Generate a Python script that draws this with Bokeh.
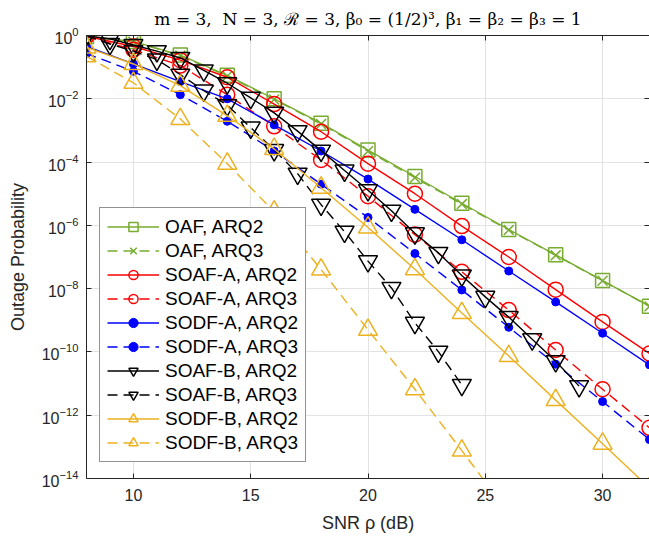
from bokeh.plotting import figure
from bokeh.models import FixedTicker, LinearAxis, LogAxis, Range1d, LogTickFormatter
from bokeh.embed import file_html
from bokeh.resources import INLINE

# ---------------- data ----------------
snr_2db = [8, 10, 12, 14, 16, 18, 20, 22, 24, 26, 28, 30, 32]
snr_soafb_arq2 = list(range(8, 30))   # 8..29 dB, 1 dB steps
snr_soafb_arq3 = list(range(8, 25))   # 8..24 dB, 1 dB steps
snr_sodfb_arq3 = [8, 10, 12, 14, 16, 18, 20, 22, 24, 26]

oaf_arq2 = [0.93, 0.65, 0.24, 5.5e-2, 1.0e-2, 1.7e-3, 2.4e-4, 3.5e-5, 5.0e-6, 7.4e-7, 1.17e-7, 1.8e-8, 2.8e-9]
oaf_arq3 = [0.92, 0.63, 0.23, 5.2e-2, 9.5e-3, 1.6e-3, 2.2e-4, 3.2e-5, 4.7e-6, 7.1e-7, 1.13e-7, 1.78e-8, 2.75e-9]
soafa_arq2 = [0.95, 0.45, 0.166, 4.8e-2, 6.8e-3, 9.1e-4, 8.9e-5, 1.0e-5, 9.5e-7, 1.0e-7, 9.3e-9, 8.9e-10, 8.9e-11]
soafa_arq3 = [0.95, 0.355, 0.112, 1.35e-2, 1.35e-3, 1.17e-4, 8.3e-6, 5.1e-7, 3.4e-8, 2.1e-9, 1.15e-10, 6.6e-12, 4.0e-13]
sodfa_arq2 = [0.45, 0.126, 3.5e-2, 1.0e-2, 1.5e-3, 2.24e-4, 2.9e-5, 3.2e-6, 3.5e-7, 3.6e-8, 3.8e-9, 3.9e-10, 3.9e-11]
sodfa_arq3 = [0.27, 7.4e-2, 1.35e-2, 1.95e-3, 2.24e-4, 2.0e-5, 1.78e-6, 1.29e-7, 9.1e-9, 6.0e-10, 4.1e-11, 2.7e-12, 1.7e-13]
soafb_arq2 = [0.98, 0.78, 0.5, 0.32, 0.195, 7.9e-2, 3.1e-2, 1.07e-2, 3.6e-3, 9.5e-4, 2.3e-4, 5.4e-5,
              1.29e-5, 2.9e-6, 5.6e-7, 1.35e-7, 2.6e-8, 5.5e-9, 1.26e-9, 2.5e-10, 5.1e-11, 8.3e-12]
soafb_arq3 = [0.98, 0.54, 0.32, 0.174, 5.8e-2, 1.82e-2, 6.3e-3, 1.23e-3, 2.4e-4, 4.3e-5, 4.5e-6, 6.3e-7,
              7.4e-8, 1.05e-8, 8.3e-10, 1.02e-10, 9.1e-12]
sodfb_arq2 = [0.42, 0.126, 2.6e-2, 2.9e-3, 2.6e-4, 1.55e-5, 8.5e-7, 4.1e-8, 1.7e-9, 7.4e-11, 3.0e-12, 1.26e-13, 5.0e-15]
sodfb_arq3 = [0.22, 3.2e-2, 2.3e-3, 8.9e-5, 2.7e-6, 4.0e-8, 5.0e-10, 6.6e-12, 7.6e-14, 7.9e-16]

x_ticks = [10, 15, 20, 25, 30]
y_ticks = [1e0, 1e-2, 1e-4, 1e-6, 1e-8, 1e-10, 1e-12, 1e-14]

title_text = ("m = 3,\u00a0\u00a0N = 3,\u00a0\u211b = 3,\u00a0\u03b2\u2080 = (1/2)\u00b3,\u00a0"
              "\u03b2\u2081 = \u03b2\u2082 = \u03b2\u2083 = 1")

# ---------------- styles ----------------
GREEN = "#77AC30"
RED = "#FF0000"
BLUE = "#0000FF"
BLACK = "#000000"
YELLOW = "#EDB120"
AXC = "#262626"
FONT = "Liberation Sans"
DASH = "10 6"
LW = 1.4

p = figure(width=649, height=536, y_axis_type="log",
           x_range=Range1d(8, 32), y_range=Range1d(1e-14, 1e0),
           output_backend="svg", toolbar_location=None,
           min_border_left=86, min_border_right=0, min_border_top=32, min_border_bottom=58)

p.title.text = title_text
p.title.align = "center"
p.title.text_font = "DejaVu Serif"
p.title.text_font_size = "17px"
p.title.text_font_style = "normal"
p.title.text_color = "#000000"
p.title.standoff = 13

p.outline_line_color = None
p.background_fill_color = "white"
p.border_fill_color = "white"

# axes
p.xaxis.ticker = FixedTicker(ticks=x_ticks, minor_ticks=[])
p.yaxis.ticker = FixedTicker(ticks=y_ticks, minor_ticks=[])
p.yaxis.formatter = LogTickFormatter()
for ax in (p.xaxis[0], p.yaxis[0]):
    ax.axis_line_color = AXC
    ax.major_tick_line_color = AXC
    ax.major_tick_in = 5
    ax.major_tick_out = 0
    ax.minor_tick_line_color = None
    ax.major_label_text_font = FONT
    ax.major_label_text_font_size = "16px"
    ax.major_label_text_color = AXC
    ax.axis_label_text_font = FONT
    ax.axis_label_text_font_size = "18px"
    ax.axis_label_text_font_style = "normal"
    ax.axis_label_text_color = AXC
p.xaxis.axis_label = "SNR \u03c1 (dB)"
p.yaxis.axis_label = "Outage Probability"
p.xaxis.major_label_standoff = 10
p.yaxis.major_label_standoff = 8
p.xaxis.axis_label_standoff = 9
p.yaxis.axis_label_standoff = 11

top_axis = LinearAxis(ticker=FixedTicker(ticks=x_ticks, minor_ticks=[]))
top_axis.axis_line_color = AXC
top_axis.major_tick_line_color = AXC
top_axis.major_tick_in = 5
top_axis.major_tick_out = 0
top_axis.minor_tick_line_color = None
top_axis.major_label_text_font_size = "1px"
top_axis.major_label_text_color = None
top_axis.major_label_standoff = 0
p.add_layout(top_axis, "above")

right_axis = LogAxis(ticker=FixedTicker(ticks=y_ticks, minor_ticks=[]))
right_axis.axis_line_color = None
right_axis.major_tick_line_color = AXC
right_axis.major_tick_in = 5
right_axis.major_tick_out = 0
right_axis.minor_tick_line_color = None
right_axis.major_label_text_font_size = "1px"
right_axis.major_label_text_color = None
right_axis.major_label_standoff = 0
p.add_layout(right_axis, "right")

p.xgrid.ticker = FixedTicker(ticks=x_ticks, minor_ticks=[])
p.ygrid.ticker = FixedTicker(ticks=y_ticks, minor_ticks=[])
p.grid.grid_line_color = "#e3e3e3"
p.grid.grid_line_width = 1

# ---------------- series ----------------
def series(xs, ys, color, dash, marker, size, label, filled=False):
    p.line(xs, ys, line_color=color, line_width=LW, line_dash=dash, legend_label=label)
    if filled:
        p.scatter(xs, ys, marker=marker, size=size, line_color=color, fill_color=color,
                  line_width=1, legend_label=label)
    else:
        p.scatter(xs, ys, marker=marker, size=size, line_color=color, fill_alpha=0,
                  line_width=1.5, legend_label=label)

series(snr_2db, oaf_arq2, GREEN, "solid", "square", 14, "OAF, ARQ2")
series(snr_2db, oaf_arq3, GREEN, DASH, "x", 14, "OAF, ARQ3")
series(snr_2db, soafa_arq2, RED, "solid", "circle", 15, "SOAF-A, ARQ2")
series(snr_2db, soafa_arq3, RED, DASH, "circle", 15, "SOAF-A, ARQ3")
series(snr_2db, sodfa_arq2, BLUE, "solid", "circle", 8, "SODF-A, ARQ2", filled=True)
series(snr_2db, sodfa_arq3, BLUE, DASH, "circle", 8, "SODF-A, ARQ3", filled=True)
series(snr_soafb_arq2, soafb_arq2, BLACK, "solid", "inverted_triangle", 19, "SOAF-B, ARQ2")
series(snr_soafb_arq3, soafb_arq3, BLACK, DASH, "inverted_triangle", 19, "SOAF-B, ARQ3")
series(snr_2db, sodfb_arq2, YELLOW, "solid", "triangle", 19, "SODF-B, ARQ2")
series(snr_sodfb_arq3, sodfb_arq3, YELLOW, DASH, "triangle", 19, "SODF-B, ARQ3")

# ---------------- legend ----------------
lg = p.legend[0]
lg.location = (13, 16)
lg.border_line_color = AXC
lg.border_line_width = 1
lg.background_fill_color = "white"
lg.background_fill_alpha = 1
lg.label_text_font = FONT
lg.label_text_font_size = "19px"
lg.label_text_color = "#000000"
lg.glyph_width = 52
lg.glyph_height = 23
lg.label_height = 23
lg.spacing = 1
lg.padding = 7
lg.margin = 0
lg.label_standoff = 6

open("out.html", "w").write(file_html(p, INLINE))
